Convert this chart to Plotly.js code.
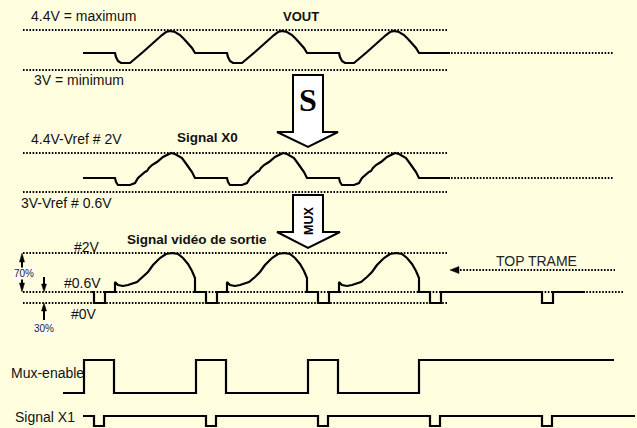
<!DOCTYPE html>
<html>
<head>
<meta charset="utf-8">
<script src="https://cdn.plot.ly/plotly-3.0.1.min.js"></script>
<style>html,body{margin:0;padding:0;background:#ffffe0;}#chart{width:637px;height:428px;}</style>
</head>
<body>
<div id="chart"></div>
<script>
// ---- Data (time in diagram units; analog levels = height above the row's lower reference line; logic levels 0/1) ----
const voutT = [83,115,116,118,121,130,143,157,162,166,170,175,180,184,187,190,192,195,
  227,228,230,233,242,255,269,274,278,282,287,292,296,299,302,304,307,
  339,340,342,345,354,367,381,386,390,394,399,404,408,411,414,416,419,450];
const voutV = [17,17,13,9,7,7,18,31,35,38,39,38,35,31,28,25,22,17,
  17,13,9,7,7,18,31,35,38,39,38,35,31,28,25,22,17,
  17,13,9,7,7,18,31,35,38,39,38,35,31,28,25,22,17,17];

const x0T = [83,115,116,118,130,135,138,142,145,147,149,152,157,163,168,171,175,182,187,192,195,
  227,228,230,242,247,250,254,257,259,261,264,269,275,280,283,287,294,299,304,307,
  339,340,342,354,359,362,366,369,371,373,376,381,387,392,395,399,406,411,416,419,450];
const x0V = [14,14,10,7,7,9,14,18,20,21,24,27,30,35,38,39,38,34,27,20,14,
  14,10,7,7,9,14,18,20,21,24,27,30,35,38,39,38,34,27,20,14,
  14,10,7,7,9,14,18,20,21,24,27,30,35,38,39,38,34,27,20,14,14];

const vidT = [92,94,94,105,105,115,115,118,123,128,137,143,148,153,160,166,172,178,183,188,192,195,195,
  206,206,217,217,227,227,230,235,240,249,255,260,265,272,278,284,290,295,300,304,307,307,
  318,318,329,329,339,339,342,347,352,361,367,372,377,384,390,396,402,407,412,416,419,419,
  430,430,441,441,542,542,553,553,585];
const vidV = [11,11,0,0,11,11,21,18,17,18,21,26,31,38,45,49,50,49,45,39,32,25,11,
  11,0,0,11,11,21,18,17,18,21,26,31,38,45,49,50,49,45,39,32,25,11,
  11,0,0,11,11,21,18,17,18,21,26,31,38,45,49,50,49,45,39,32,25,11,
  11,0,0,11,11,0,0,11,11];

const muxT = [63,84,114,196,226,308,338,419,614];
const muxV = [0,1,0,1,0,1,0,1,1];

const x1T = [83,94,104,206,216,318,328,430,440,542,552,635];
const x1V = [1,0,1,0,1,0,1,0,1,0,1,1];

// ---- Layout ----
const W = 637, H = 428;
const FONT = 'Liberation Sans, Arial, sans-serif';
const INK = '#000';

function rowAxis(p0, s) {
  return {overlaying: 'y', anchor: 'x', visible: false, fixedrange: true,
          range: [-(H - p0) / s, p0 / s]};
}

function wave(t, v, ax, shape) {
  return {x: t, y: v, yaxis: ax, type: 'scatter', mode: 'lines', hoverinfo: 'skip',
          line: {color: INK, width: 2.2, shape: shape || 'linear'}};
}

const traces = [
  wave(voutT, voutV, 'y2'),
  wave(x0T, x0V, 'y3'),
  wave(vidT, vidV, 'y4'),
  wave(muxT, muxV, 'y5', 'hv'),
  wave(x1T, x1V, 'y6', 'hv')
];

function dot(x0, x1, y) {
  return {type: 'line', xref: 'x', yref: 'y', x0: x0, x1: x1, y0: y, y1: y, layer: 'below',
          line: {color: '#000', width: 1.8, dash: '1.6px,1.6px'}};
}
function path(d, fill, w) {
  return {type: 'path', xref: 'x', yref: 'y', path: d, fillcolor: fill,
          line: {color: INK, width: w === undefined ? 2 : w}};
}
function seg(x0, y0, x1, y1) {
  return {type: 'line', xref: 'x', yref: 'y', x0: x0, y0: y0, x1: x1, y1: y1,
          line: {color: INK, width: 2}};
}

const shapes = [
  dot(23, 448, 30), dot(23, 448, 70), dot(451, 613, 53),
  dot(23, 448, 153), dot(23, 448, 192), dot(451, 613, 178),
  dot(23, 448, 253), dot(23, 623, 292), dot(23, 448, 303),
  dot(460, 615, 270),
  // block arrows
  path('M293,75 L323,75 L323,132 L338,132 L308,147 L277,132 L293,132 Z', '#ffffff', 2),
  path('M293,195 L323,195 L323,232 L340,232 L308,248 L277,232 L293,232 Z', '#ffffff', 2),
  // 70% double arrow
  seg(22, 260, 22, 285),
  path('M22,253 L19.5,262 L24.5,262 Z', INK, 0.5),
  path('M22,292 L19.5,283 L24.5,283 Z', INK, 0.5),
  // small arrows at 0.6V / 0V
  seg(44, 277, 44, 286),
  path('M44,292 L41.5,284 L46.5,284 Z', INK, 0.5),
  seg(44, 310, 44, 320),
  path('M44,303 L41.5,311 L46.5,311 Z', INK, 0.5),
  // TOP TRAME arrowhead
  path('M450,270 L459,266.5 L459,273.5 Z', INK, 0.5)
];

function lab(text, x, y, opts) {
  opts = opts || {};
  return Object.assign({xref: 'x', yref: 'y', x: x, y: y, text: text, showarrow: false,
    xanchor: 'left', yanchor: 'middle',
    font: {family: FONT, size: opts.size || 14, color: opts.color || '#111'}}, opts.extra || {});
}

const annotations = [
  lab('4.4V = maximum', 29, 16),
  lab('<b>VOUT</b>', 301, 16, {size: 13, extra: {xanchor: 'center'}}),
  lab('3V = minimum', 32, 80),
  lab('4.4V-Vref # 2V', 29, 139),
  lab('<b>Signal X0</b>', 207, 137, {size: 13.5, extra: {xanchor: 'center'}}),
  lab('3V-Vref # 0.6V', 19, 203),
  lab('<b>Signal vidéo de sortie</b>', 197, 239, {size: 13.5, extra: {xanchor: 'center'}}),
  lab('#2V', 72, 247),
  lab('#0.6V', 62, 283),
  lab('#0V', 69, 314),
  lab('TOP TRAME', 494, 261, {color: '#222'}),
  lab('Mux-enable', 9, 373),
  lab('Signal X1', 13, 417),
  lab('70%', 24, 273, {size: 10, color: '#222', extra: {xanchor: 'center', bgcolor: '#ffffff', borderpad: 0}}),
  lab('30%', 44, 328, {size: 10, color: '#222', extra: {xanchor: 'center', bgcolor: '#ffffff', borderpad: 0}}),
  {xref: 'x', yref: 'y', x: 308, y: 100, text: '<b>S</b>', showarrow: false,
   xanchor: 'center', yanchor: 'middle',
   font: {family: 'Liberation Serif, DejaVu Serif, serif', size: 32, color: '#000'}},
  {xref: 'x', yref: 'y', x: 309, y: 221, text: '<b>MUX</b>', showarrow: false, textangle: -90,
   xanchor: 'center', yanchor: 'middle',
   font: {family: FONT, size: 12.5, color: '#000'}}
];

const layout = {
  width: W, height: H,
  margin: {l: 0, r: 0, t: 0, b: 0, pad: 0},
  paper_bgcolor: '#ffffe0', plot_bgcolor: '#ffffe0',
  showlegend: false,
  xaxis: {range: [0, W], visible: false, fixedrange: true},
  yaxis: {range: [H, 0], visible: false, fixedrange: true},
  yaxis2: rowAxis(70, 1),
  yaxis3: rowAxis(192, 1),
  yaxis4: rowAxis(303, 1),
  yaxis5: rowAxis(393, 33),
  yaxis6: rowAxis(426, 10),
  shapes: shapes,
  annotations: annotations
};

Plotly.newPlot('chart', traces, layout, {staticPlot: true, displayModeBar: false});
</script>
</body>
</html>
